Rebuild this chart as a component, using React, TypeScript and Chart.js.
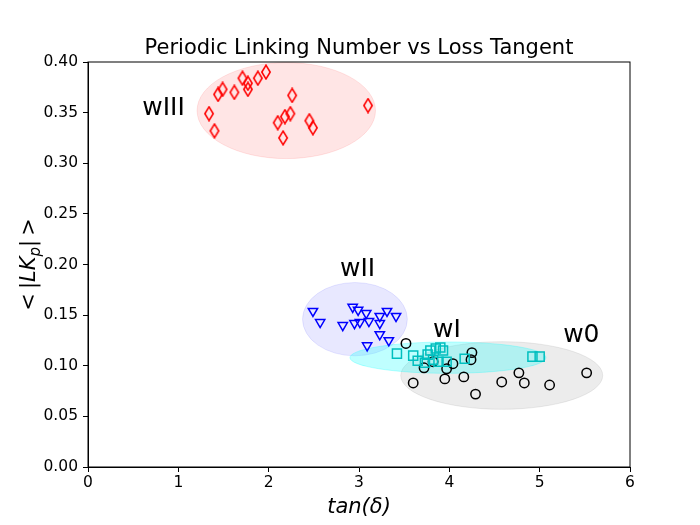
import React, { useEffect, useRef } from 'react';
import { Chart, registerables } from 'chart.js';

Chart.register(...registerables);

// tick values
const xTicks = [0, 1, 2, 3, 4, 5, 6];
const yTicks = [0, 0.05, 0.1, 0.15, 0.2, 0.25, 0.3, 0.35, 0.4];

// wIII - red thin diamonds
const w3X = [1.34, 1.40, 1.44, 1.49, 1.62, 1.71, 1.77, 1.77, 1.88, 1.97, 2.26, 2.10, 2.18, 2.24, 2.16, 2.45, 2.49, 3.10];
const w3Y = [0.349, 0.332, 0.368, 0.373, 0.370, 0.384, 0.379, 0.373, 0.384, 0.390, 0.367, 0.340, 0.346, 0.349, 0.325, 0.342, 0.335, 0.357];

// wII - blue down triangles
const w2X = [2.49, 2.57, 2.82, 2.93, 2.99, 2.95, 3.01, 3.08, 3.11, 3.23, 3.23, 3.31, 3.41, 3.23, 3.33, 3.09];
const w2Y = [0.154, 0.143, 0.140, 0.158, 0.155, 0.142, 0.143, 0.152, 0.144, 0.149, 0.142, 0.154, 0.149, 0.131, 0.125, 0.120];

// wI - cyan squares
const w1X = [3.42, 3.60, 3.65, 3.76, 3.79, 3.85, 3.90, 3.93, 3.73, 3.82, 3.88, 3.97, 4.17, 4.92, 5.00];
const w1Y = [0.112, 0.110, 0.105, 0.111, 0.115, 0.117, 0.118, 0.115, 0.103, 0.106, 0.104, 0.104, 0.107, 0.109, 0.109];

// w0 - black circles
const w0X = [3.52, 3.60, 3.72, 3.82, 3.97, 3.95, 4.04, 4.16, 4.25, 4.24, 4.29, 4.58, 4.77, 4.83, 5.11, 5.52];
const w0Y = [0.122, 0.083, 0.098, 0.104, 0.097, 0.087, 0.102, 0.089, 0.113, 0.106, 0.072, 0.084, 0.093, 0.083, 0.081, 0.093];

// cluster ellipses (data units)
const clusterNames = ['wIII', 'wII', 'wI', 'w0'];
const clusterCx = [2.195, 2.955, 3.985, 4.58];
const clusterCy = [0.352, 0.146, 0.108, 0.0904];
const clusterW = [1.975, 1.16, 2.17, 2.236];
const clusterH = [0.0948, 0.0724, 0.031, 0.0668];
const clusterFill = ['rgba(255,0,0,0.1)', 'rgba(0,0,255,0.09)', 'rgba(0,255,255,0.25)', 'rgba(128,128,128,0.15)'];
const clusterDrawOrder = [0, 1, 3, 2];

// cluster labels (left, baseline in data units)
const labelX = [0.6, 2.79, 3.82, 5.26];
const labelY = [0.3477, 0.1886, 0.1287, 0.1238];

const toPoints = (xs: number[], ys: number[]) => xs.map((x, i) => ({ x, y: ys[i] }));

const App: React.FC = () => {
    const canvasRef = useRef<HTMLCanvasElement>(null);

    useEffect(() => {
        document.body.style.margin = '0';
        if (!canvasRef.current) return;
        const ctx = canvasRef.current.getContext('2d');
        if (!ctx) return;

        const diamond = document.createElement('canvas');
        diamond.width = 12;
        diamond.height = 16;
        const dg = diamond.getContext('2d')!;
        dg.strokeStyle = '#ff0000';
        dg.lineWidth = 1.6;
        dg.beginPath();
        dg.moveTo(6, 1.2);
        dg.lineTo(10.2, 8);
        dg.lineTo(6, 14.8);
        dg.lineTo(1.8, 8);
        dg.closePath();
        dg.stroke();

        const font = 'DejaVu Sans';

        const decor = {
            id: 'decor',
            beforeDatasetsDraw(chart: any) {
                const { ctx: c, scales } = chart;
                const xs = scales.x, ys = scales.y;
                c.save();
                clusterDrawOrder.forEach(i => {
                    const cx = xs.getPixelForValue(clusterCx[i]);
                    const cy = ys.getPixelForValue(clusterCy[i]);
                    const rx = Math.abs(xs.getPixelForValue(clusterCx[i] + clusterW[i] / 2) - cx);
                    const ry = Math.abs(ys.getPixelForValue(clusterCy[i] + clusterH[i] / 2) - cy);
                    c.beginPath();
                    c.ellipse(cx, cy, rx, ry, 0, 0, Math.PI * 2);
                    c.fillStyle = clusterFill[i];
                    c.fill();
                    c.strokeStyle = clusterFill[i];
                    c.lineWidth = 1;
                    c.stroke();
                });
                c.restore();
            },
            afterDatasetsDraw(chart: any) {
                const { ctx: c, scales, chartArea: a } = chart;
                const xs = scales.x, ys = scales.y;
                c.save();
                // frame
                c.strokeStyle = '#000';
                c.lineWidth = 1;
                c.strokeRect(a.left, a.top, a.right - a.left, a.bottom - a.top);

                // cluster labels
                c.fillStyle = '#000';
                c.font = `25px "${font}"`;
                c.textAlign = 'left';
                c.textBaseline = 'alphabetic';
                clusterNames.forEach((n, i) => {
                    c.fillText(n, xs.getPixelForValue(labelX[i]), ys.getPixelForValue(labelY[i]));
                });

                // title
                const midX = (a.left + a.right) / 2;
                c.textAlign = 'center';
                c.font = `21px "${font}"`;
                c.fillText('Periodic Linking Number vs Loss Tangent', midX, 54);

                // x title
                c.font = `italic 21px "${font}"`;
                c.fillText('tan(δ)', midX, 513);

                // y title: < |LK_p| >
                const parts: [string, string, number][] = [
                    ['<', '21px', 0],
                    ['\u2009', '21px', 0],
                    ['|', '21px', 0],
                    ['LK', 'italic 21px', 0],
                    ['p', 'italic 15px', 5],
                    ['|', '21px', 0],
                    ['\u2009', '21px', 0],
                    ['>', '21px', 0],
                ];
                let total = 0;
                parts.forEach(([t, f]) => {
                    c.font = `${f} "${font}"`;
                    total += c.measureText(t).width;
                });
                c.translate(28, (a.top + a.bottom) / 2);
                c.rotate(-Math.PI / 2);
                c.textAlign = 'left';
                let px = -total / 2;
                parts.forEach(([t, f, dy]) => {
                    c.font = `${f} "${font}"`;
                    c.fillText(t, px, 7 + dy);
                    px += c.measureText(t).width;
                });
                c.restore();
            },
        };

        const tickFont = { family: font, size: 15.5 };

        const chart = new Chart(ctx, {
            type: 'scatter',
            data: {
                datasets: [
                    {
                        label: 'wIII',
                        data: toPoints(w3X, w3Y),
                        pointStyle: diamond,
                        pointRadius: 6,
                        borderColor: '#ff0000',
                        backgroundColor: 'transparent',
                    },
                    {
                        label: 'wII',
                        data: toPoints(w2X, w2Y),
                        pointStyle: 'triangle',
                        rotation: 180,
                        pointRadius: 5.4,
                        borderWidth: 1.5,
                        borderColor: '#0000ff',
                        backgroundColor: 'transparent',
                    },
                    {
                        label: 'wI',
                        data: toPoints(w1X, w1Y),
                        pointStyle: 'rect',
                        pointRadius: 6.4,
                        borderWidth: 1.5,
                        borderColor: '#00bfbf',
                        backgroundColor: 'transparent',
                    },
                    {
                        label: 'w0',
                        data: toPoints(w0X, w0Y),
                        pointStyle: 'circle',
                        pointRadius: 4.7,
                        borderWidth: 1.5,
                        borderColor: '#000000',
                        backgroundColor: 'transparent',
                    },
                ],
            },
            options: {
                animation: false,
                responsive: false,
                layout: { padding: { top: 62, right: 70, left: 0, bottom: 0 } },
                plugins: {
                    legend: { display: false },
                    tooltip: { enabled: false },
                    title: { display: false },
                },
                scales: {
                    x: {
                        type: 'linear',
                        min: 0,
                        max: 6,
                        afterBuildTicks: (s: any) => { s.ticks = xTicks.map(v => ({ value: v })); },
                        afterFit: (s: any) => { s.height = 58; },
                        ticks: { font: tickFont, color: '#000', padding: 2, maxRotation: 0 },
                        grid: { drawOnChartArea: false, drawTicks: true, tickLength: 5, color: '#000' },
                        border: { display: true, color: '#000', width: 1 },
                    },
                    y: {
                        type: 'linear',
                        min: 0,
                        max: 0.4,
                        afterBuildTicks: (s: any) => { s.ticks = yTicks.map(v => ({ value: v })); },
                        afterFit: (s: any) => { s.width = 88; },
                        ticks: {
                            font: tickFont,
                            color: '#000',
                            padding: 5,
                            callback: (v: any) => Number(v).toFixed(2),
                        },
                        grid: { drawOnChartArea: false, drawTicks: true, tickLength: 5, color: '#000' },
                        border: { display: true, color: '#000', width: 1 },
                    },
                },
            },
            plugins: [decor],
        });

        return () => {
            chart.destroy();
        };
    }, []);

    return <canvas ref={canvasRef} width={700} height={525} style={{ display: 'block' }}></canvas>;
};

export default App;
